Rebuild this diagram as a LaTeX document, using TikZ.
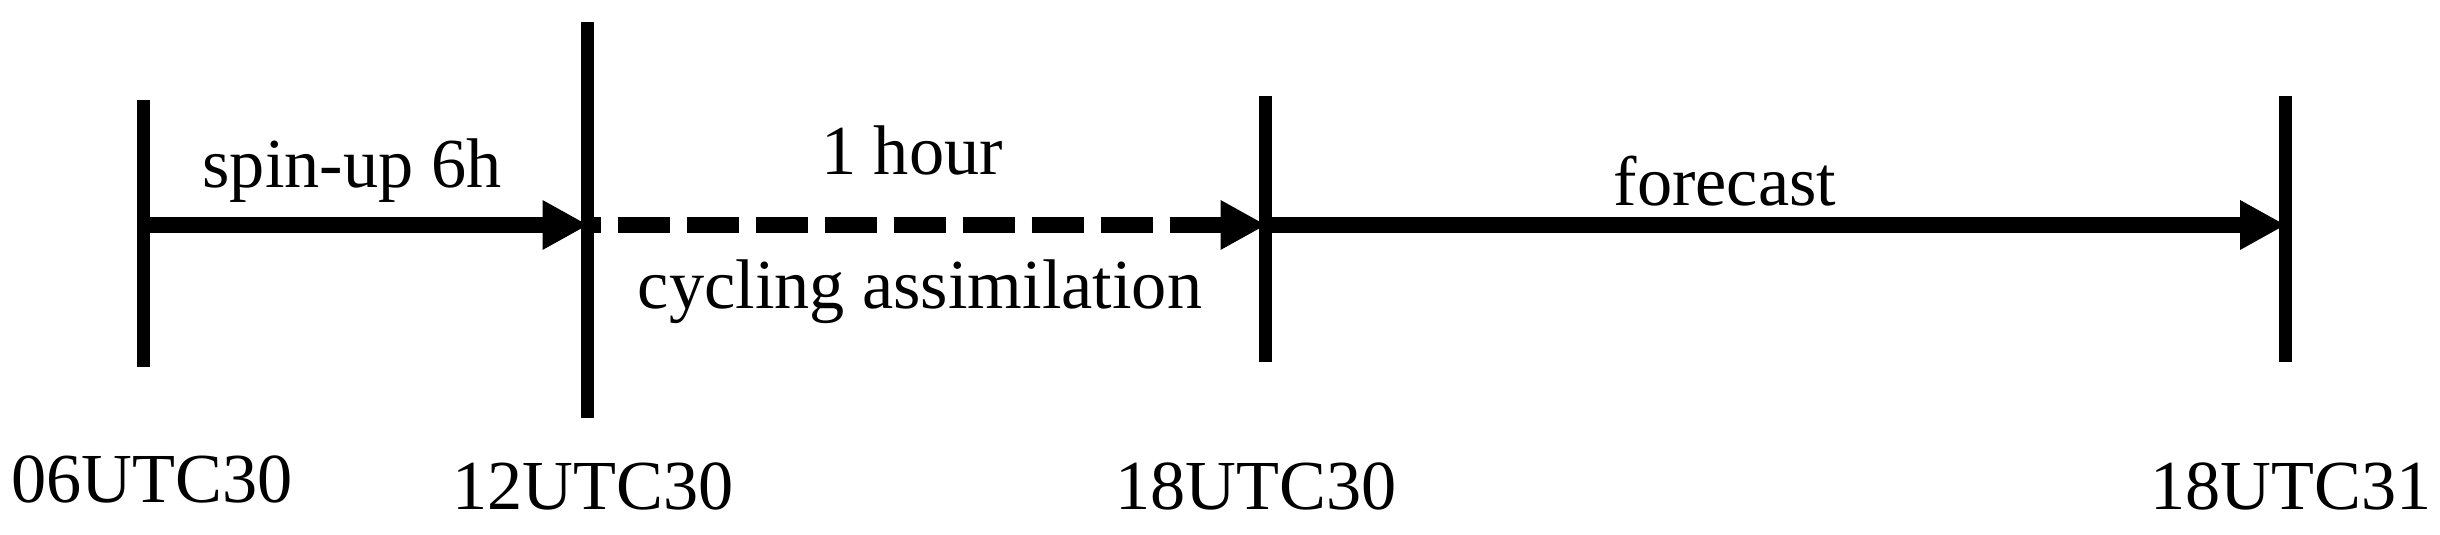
\documentclass[tikz,border=0pt]{standalone}
\usepackage{fontspec}
\setmainfont{Liberation Serif}
\usetikzlibrary{arrows.meta, positioning}
\tikzset{
    tickline/.style={line width=0.13cm},
    stage/.style={line width=0.16cm, -{Triangle[length=0.45cm, width=0.5cm, line width=0pt]}},
    lbl/.style={font=\fontsize{20}{24}\selectfont, inner sep=0pt, anchor=base},
}

\begin{document}
\begin{tikzpicture}
    \useasboundingbox (0,0) rectangle (24.40,5.35);

    % Time points on the axis
    \coordinate (t1) at (1.435,3.10);
    \coordinate (t2) at (5.875,3.10);
    \coordinate (t3) at (12.655,3.10);
    \coordinate (t4) at (22.85,3.10);

    % Draw ticks
    \draw[tickline] ([yshift=-1.42cm]t1) -- ([yshift=1.25cm]t1);
    \draw[tickline] ([yshift=-1.93cm]t2) -- ([yshift=2.03cm]t2);
    \draw[tickline] ([yshift=-1.37cm]t3) -- ([yshift=1.29cm]t3);
    \draw[tickline] ([yshift=-1.37cm]t4) -- ([yshift=1.29cm]t4);

    % Stages: spin-up, cycling (dashed), forecast
    \draw[stage] (t1) -- (t2);
    \draw[stage, dash pattern=on 0.52cm off 0.17cm, dash phase=0.39cm] (t2) -- (t3);
    \draw[stage] (t3) -- (t4);

    % Stage labels
    \node[lbl] (spinup) at (3.52,3.47) {spin-up 6h};
    \node[lbl] (hour) at (9.12,3.60) {1 hour};
    \node[lbl] (cycling) at (9.20,2.26) {cycling assimilation};
    \node[lbl] (forecast) at (17.25,3.29) {forecast};

    % Date labels
    \node[lbl] (d1) at (1.52,0.32) {06UTC30};
    \node[lbl] (d2) at (5.93,0.25) {12UTC30};
    \node[lbl] (d3) at (12.56,0.25) {18UTC30};
    \node[lbl] (d4) at (22.91,0.25) {18UTC31};
\end{tikzpicture}
\end{document}
